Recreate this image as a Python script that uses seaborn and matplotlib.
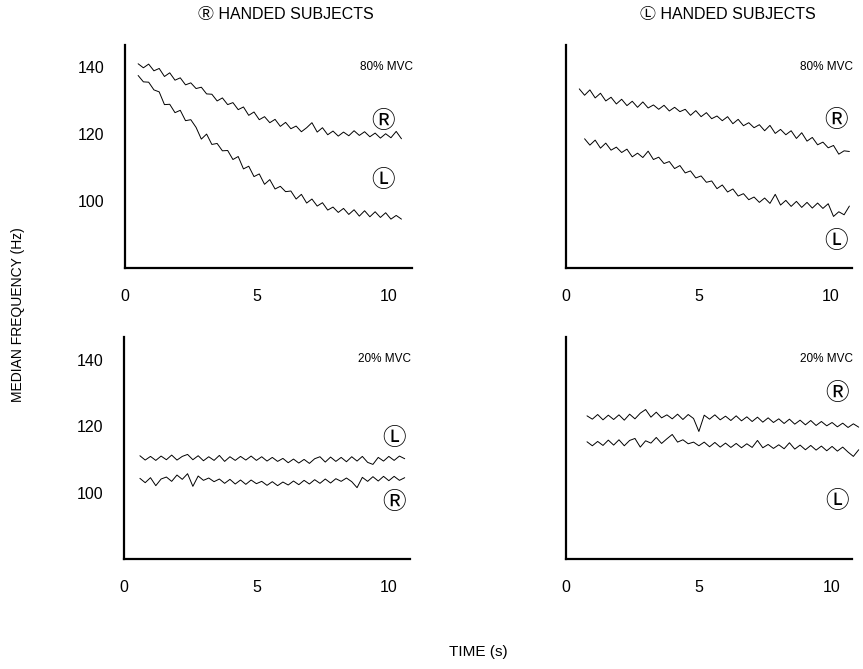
import numpy as np
import seaborn as sns
import matplotlib.pyplot as plt

sns.set_style('white')
plt.rcParams['font.family'] = ['Liberation Sans', 'Noto Sans CJK JP', 'DejaVu Sans']
plt.rcParams['text.color'] = 'black'

# time grids (s), 0.2 s sampling
t_tl = np.round(np.arange(0.5, 10.51, 0.2), 2)
t_tr_r = np.round(np.arange(0.5, 10.71, 0.2), 2)
t_tr_l = np.round(np.arange(0.7, 10.71, 0.2), 2)
t_bl = np.round(np.arange(0.6, 10.61, 0.2), 2)
t_br = np.round(np.arange(0.8, 11.01, 0.2), 2)

# 80% MVC, right handed subjects
tl_right = [141.0, 139.8, 140.9, 138.9, 139.6, 137.2, 138.3, 136.1, 136.8, 134.7,
            135.3, 133.6, 134.0, 132.0, 131.9, 129.9, 130.8, 128.8, 129.4, 127.3,
            128.1, 125.6, 126.6, 124.3, 125.2, 123.4, 124.4, 122.3, 123.5, 121.6,
            122.4, 120.7, 121.9, 123.4, 120.6, 121.9, 119.8, 120.9, 119.4, 120.6,
            119.5, 121.0, 119.6, 120.7, 119.2, 120.3, 118.8, 120.1, 118.9, 120.8,
            118.6]
tl_left = [137.5, 135.6, 135.5, 133.2, 132.6, 128.8, 128.9, 126.4, 127.1, 124.0,
           124.3, 122.0, 118.5, 120.0, 116.9, 117.2, 115.0, 115.1, 112.4, 113.3,
           109.6, 110.4, 107.3, 108.1, 105.0, 106.4, 103.6, 104.4, 102.8, 103.0,
           100.6, 102.0, 99.4, 100.6, 98.5, 99.5, 97.3, 98.2, 96.6, 97.8,
           96.0, 97.4, 95.5, 97.1, 95.3, 96.8, 95.1, 96.5, 94.6, 95.7,
           94.6]

# 80% MVC, left handed subjects
tr_right = [133.5, 131.6, 133.2, 130.8, 132.2, 129.9, 131.0, 129.0, 130.4, 128.5,
            129.8, 128.0, 129.6, 127.8, 128.7, 127.4, 128.6, 126.9, 128.0, 126.7,
            127.4, 125.6, 127.0, 125.2, 126.4, 124.6, 125.4, 124.0, 125.2, 123.1,
            124.4, 122.5, 123.4, 121.9, 122.8, 121.0, 122.6, 120.2, 121.4, 119.8,
            121.0, 118.7, 120.4, 117.9, 119.0, 116.8, 117.6, 115.9, 116.6, 114.0,
            115.0, 114.8]
tr_left = [118.6, 116.7, 118.2, 115.8, 117.3, 115.2, 116.1, 114.5, 115.5, 113.2,
           114.3, 113.0, 114.9, 112.4, 113.1, 111.2, 111.8, 109.7, 110.6, 108.4,
           109.0, 106.9, 107.5, 105.6, 106.0, 103.7, 104.8, 102.7, 103.6, 101.5,
           102.2, 100.4, 101.2, 99.6, 100.9, 99.3, 102.0, 98.8, 100.2, 98.4,
           99.9, 98.1, 99.6, 97.9, 99.4, 97.8, 99.2, 95.4, 96.8, 95.9,
           98.5]

# 20% MVC, right handed subjects
bl_left = [111.2, 109.9, 111.0, 109.8, 111.1, 110.0, 111.4, 109.9, 111.0, 111.6,
           110.0, 111.2, 109.7, 110.9, 109.8, 111.3, 109.5, 110.9, 109.8, 111.0,
           109.9, 111.1, 109.8, 110.9, 109.6, 110.7, 109.5, 110.4, 109.1, 110.2,
           109.0, 110.1, 108.9, 110.3, 110.9, 109.3, 110.8, 109.5, 110.7, 109.4,
           110.9, 109.6, 111.0, 109.2, 108.6, 110.7, 109.6, 111.0, 109.8, 111.1,
           110.3]
bl_right = [104.4, 103.1, 104.6, 102.2, 104.2, 104.8, 103.5, 105.4, 104.1, 105.8,
            102.0, 105.1, 103.8, 104.5, 103.4, 104.2, 102.9, 104.1, 102.7, 103.9,
            102.6, 103.9, 102.8, 103.5, 102.3, 103.4, 102.2, 103.3, 102.4, 103.6,
            102.5, 103.8, 102.7, 104.0, 102.9, 104.2, 103.0, 104.3, 103.5, 104.5,
            103.4, 101.6, 104.7, 103.5, 104.9, 103.6, 105.0, 103.7, 105.0, 103.8,
            104.6]

# 20% MVC, left handed subjects
br_right = [123.2, 122.2, 123.6, 122.0, 123.4, 122.1, 123.5, 121.9, 123.7, 122.3,
            124.0, 125.1, 122.8, 124.3, 122.6, 123.5, 122.3, 123.7, 122.1, 123.6,
            122.4, 118.5, 123.4, 122.2, 123.5, 122.0, 123.1, 121.8, 123.2, 121.7,
            122.9, 121.5, 122.8, 121.3, 122.6, 121.2, 122.3, 120.9, 122.2, 120.7,
            121.9, 120.5, 121.8, 120.3, 121.5, 120.2, 121.2, 119.9, 121.0, 119.7,
            120.8, 119.8]
br_left = [115.4, 114.2, 115.5, 114.3, 115.9, 114.4, 116.0, 114.2, 115.8, 116.4,
           113.8, 115.7, 115.0, 116.7, 114.9, 116.3, 117.6, 115.3, 116.0, 114.8,
           115.3, 114.2, 115.3, 113.9, 115.2, 113.8, 115.0, 113.7, 114.9, 113.6,
           114.8, 113.7, 115.8, 113.6, 114.6, 113.4, 114.5, 113.3, 115.1, 113.2,
           114.4, 113.0, 114.3, 112.9, 114.1, 112.7, 114.0, 112.6, 113.8, 112.3,
           111.0, 113.0]

titles = ['\u24c7 HANDED SUBJECTS', '\u24c1 HANDED SUBJECTS']
effort = ['80% MVC', '80% MVC', '20% MVC', '20% MVC']
yticks = [100, 120, 140]
xticks = [0, 5, 10]

fig = plt.figure(figsize=(8.63, 6.69), dpi=100)

# [left, bottom, width, height], xmax, ymax
panels = [
    ([0.1448, 0.5994, 0.3326, 0.3333], 10.9, 146.6),
    ([0.6559, 0.5994, 0.3314, 0.3333], 10.8, 146.6),
    ([0.1437, 0.1637, 0.3314, 0.3330], 10.8, 147.0),
    ([0.6555, 0.1637, 0.3318, 0.3330], 10.75, 147.0),
]
traces = [
    [(t_tl, tl_right), (t_tl, tl_left)],
    [(t_tr_r, tr_right), (t_tr_l, tr_left)],
    [(t_bl, bl_left), (t_bl, bl_right)],
    [(t_br, br_right), (t_br, br_left)],
]
# curve tags: (letter, x, y)
tags = [
    [('\u24c7', 9.8, 123.9), ('\u24c1', 9.8, 106.0)],
    [('\u24c7', 10.2, 124.0), ('\u24c1', 10.2, 87.8)],
    [('\u24c1', 10.2, 116.5), ('\u24c7', 10.2, 97.0)],
    [('\u24c7', 10.2, 129.8), ('\u24c1', 10.2, 97.5)],
]

for i, (pos, xmax, ymax) in enumerate(panels):
    ax = fig.add_axes(pos)
    for tt, yy in traces[i]:
        sns.lineplot(x=tt, y=yy, ax=ax, color='black', lw=0.7, clip_on=False)
    ax.set_xlim(0, xmax)
    ax.set_ylim(80, ymax)
    sns.despine(ax=ax)
    for s in ['left', 'bottom']:
        ax.spines[s].set_linewidth(1.6)
        ax.spines[s].set_color('black')
    ax.set_xticks(xticks)
    ax.set_yticks(yticks)
    ax.tick_params(direction='out', length=8, width=1.0, colors='black',
                   labelsize=11.5, pad=7)
    if i % 2 == 1:
        ax.set_yticklabels([])
    ax.text(1.005, 0.9, effort[i], transform=ax.transAxes, ha='right',
            va='center', fontsize=8.5)
    for lab, lx, ly in tags[i]:
        ax.text(lx, ly, lab, ha='center', va='center', fontsize=17,
                family=['Noto Sans CJK JP'])

fig.text(0.331, 0.978, titles[0], ha='center', va='center', fontsize=11.5)
fig.text(0.844, 0.978, titles[1], ha='center', va='center', fontsize=11.5)
fig.text(0.021, 0.53, 'MEDIAN FREQUENCY (Hz)', rotation=90, ha='center',
         va='center', fontsize=10)
fig.text(0.554, 0.025, 'TIME (s)', ha='center', va='center', fontsize=11)

fig.savefig('out.png', dpi=100)
